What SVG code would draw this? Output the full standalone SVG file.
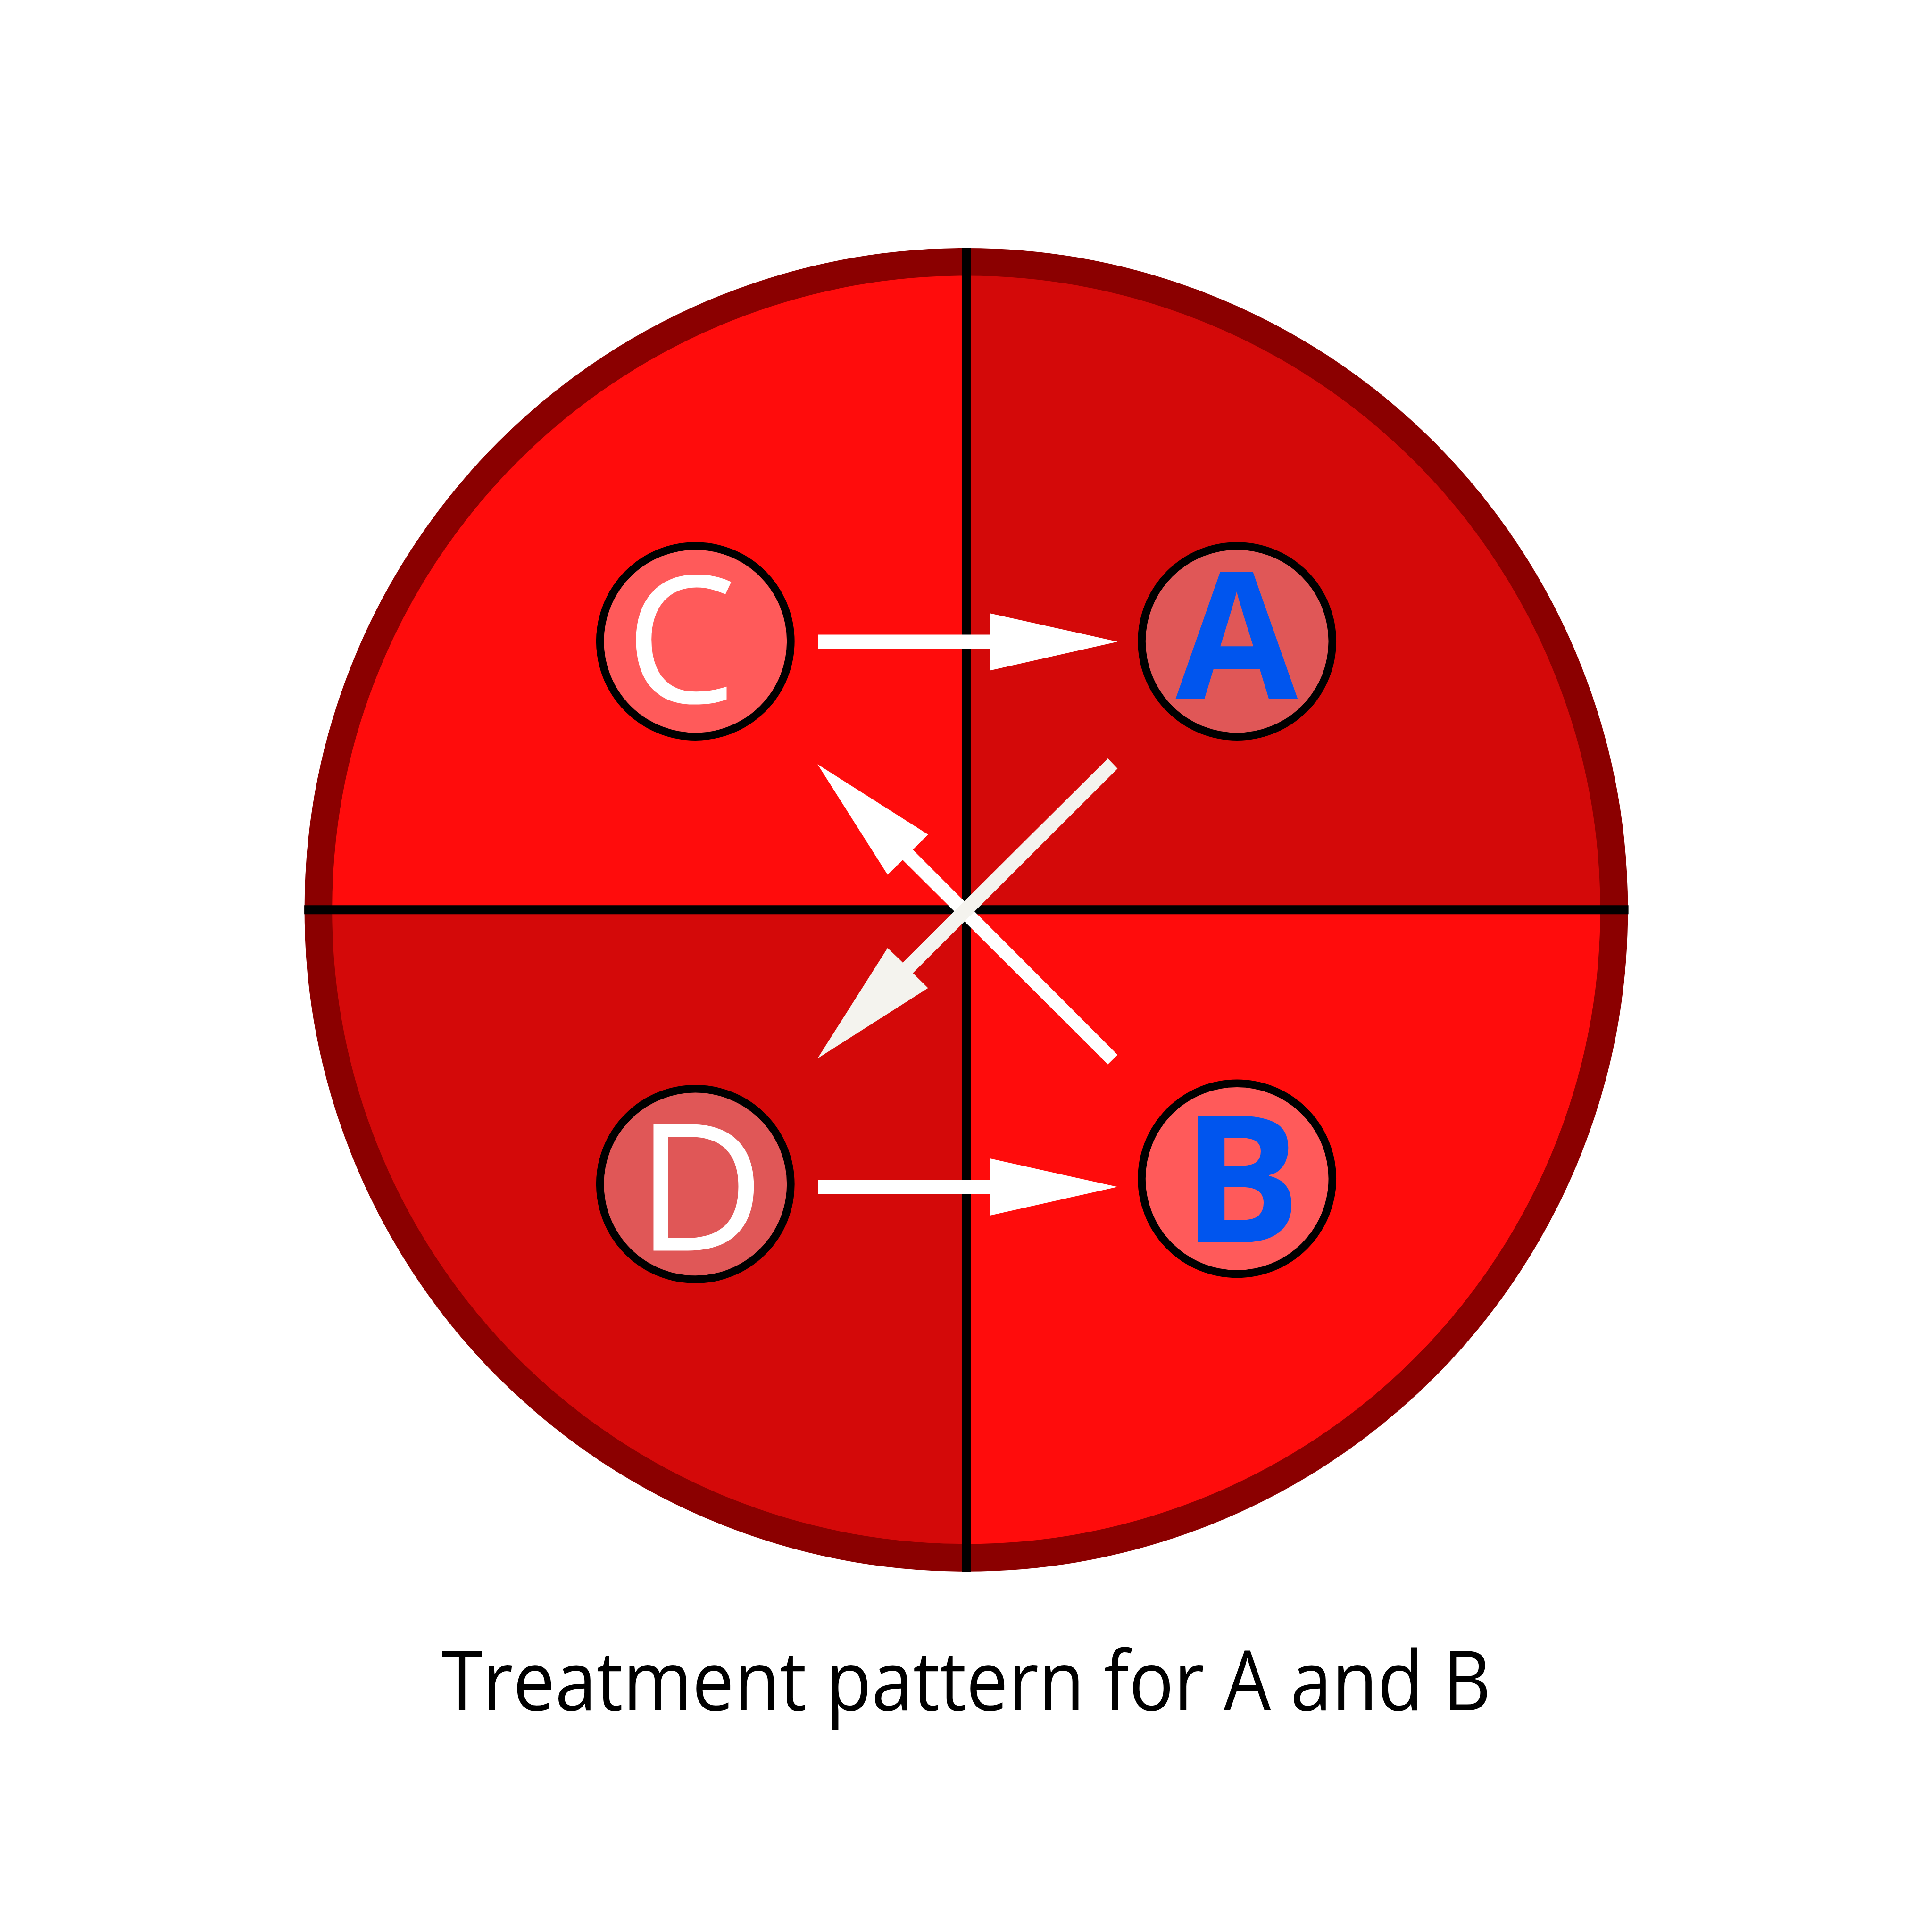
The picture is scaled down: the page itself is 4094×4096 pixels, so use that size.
<svg xmlns="http://www.w3.org/2000/svg" width="4094" height="4096" viewBox="0 0 4094 4096">
<style>
.bright{fill:#ff0c0c}
.dark{fill:#d40909}
.ring{fill:none;stroke:#8b0000;stroke-width:71}
.axis{stroke:#000;stroke-width:23;fill:none}
.node{stroke:#000;stroke-width:20}
.light{fill:#ff5a5a}
.muted{fill:#e05757}
.lblw{fill:#fff;font-family:"Open Sans","Noto Sans",sans-serif;font-size:455px;text-anchor:middle}
.lblb{fill:#0055ee;font-family:"Open Sans","Noto Sans",sans-serif;font-weight:bold;font-size:455px;text-anchor:middle}
.arrow{fill:#fff}
.arrow2{fill:#f4f3ee}
.caption{fill:#000;font-family:"Open Sans","Noto Sans",sans-serif;font-size:214px;text-anchor:middle}
</style>
<rect width="4094" height="4096" fill="#fff"/>
<g transform="scale(0.825)">
  <g id="disc">
    <path class="bright" d="M2483,2338 L818,2338 A1665,1665 0 0 1 2483,673 Z"/>
    <path class="dark" d="M2483,2338 L2483,673 A1665,1665 0 0 1 4148,2338 Z"/>
    <path class="bright" d="M2483,2338 L4148,2338 A1665,1665 0 0 1 2483,4003 Z"/>
    <path class="dark" d="M2483,2338 L2483,4003 A1665,1665 0 0 1 818,2338 Z"/>
    <circle class="ring" cx="2483" cy="2338" r="1665"/>
    <line class="axis" x1="782" y1="2338" x2="4185" y2="2338"/>
    <line class="axis" x1="2483" y1="637" x2="2483" y2="4039"/>
  </g>
  <g id="node-C">
    <circle class="node light" cx="1787" cy="1648" r="245"/>
    <text class="lblw" x="1750" y="1806">C</text>
  </g>
  <g id="node-A">
    <circle class="node muted" cx="3179" cy="1648" r="245"/>
    <text class="lblb" x="3178" y="1796">A</text>
  </g>
  <g id="node-D">
    <circle class="node muted" cx="1787" cy="3043" r="245"/>
    <text class="lblw" x="1800" y="3214">D</text>
  </g>
  <g id="node-B">
    <circle class="node light" cx="3179" cy="3029" r="245"/>
    <text class="lblb" x="3190" y="3192">B</text>
  </g>
  <g id="connectors">
    <polygon class="arrow" points="2102,1631 2544,1631 2544,1576 2872,1649 2544,1723 2544,1668 2102,1668"/>
    <polygon class="arrow" points="2102,3032 2544,3032 2544,2977 2872,3050 2544,3123.5 2544,3069 2102,3069"/>
    <polygon class="arrow" points="2101,1964 2385,2144.5 2346,2183.6 2872,2710.6 2847,2735 2320,2210 2281,2248"/>
    <polygon class="arrow2" points="2101,2720 2281,2436 2320,2473.5 2847,1949 2872,1975 2346,2500.5 2385,2539"/>
  </g>
  <text class="caption" x="2483" y="4395" textLength="2697" lengthAdjust="spacingAndGlyphs">Treatment pattern for A and B</text>
</g>
</svg>
